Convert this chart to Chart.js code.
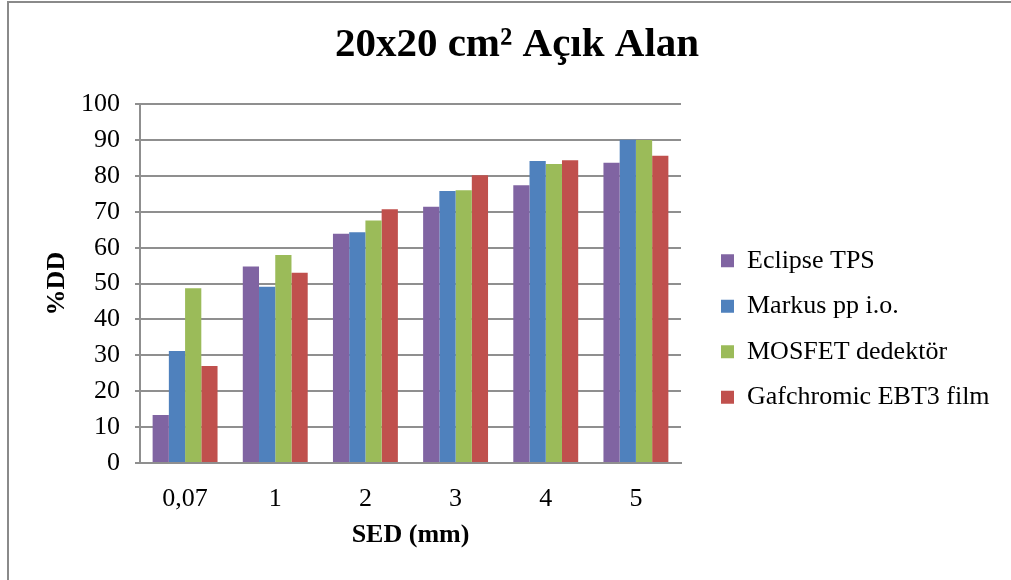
<!DOCTYPE html>
<html>
<head>
<meta charset="utf-8">
<script src="https://cdn.jsdelivr.net/npm/chart.js@4.4.1/dist/chart.umd.min.js"></script>
<style>
  html, body { margin: 0; padding: 0; background: #ffffff; overflow: hidden; }
  #wrap { position: relative; width: 1011px; height: 580px; overflow: hidden; }
  #frame { position: absolute; left: 7px; top: 1px; width: 1100px; height: 700px;
           border-left: 2px solid #8a8a8a; border-top: 2px solid #8a8a8a; box-sizing: border-box; }
  #chart { position: absolute; left: 0; top: 0; }
</style>
</head>
<body>
<div id="wrap">
  <div id="frame"></div>
  <canvas id="chart" width="1011" height="580"></canvas>
</div>
<script>
// Surface dose at the tested depths (SED, mm), 20x20 cm² open field
const categories = ['0,07', '1', '2', '3', '4', '5'];
const seriesNames = ['Eclipse TPS', 'Markus pp i.o.', 'MOSFET dedektör', 'Gafchromic EBT3 film'];
const eclipseTPS = [13.4, 54.8, 63.9, 71.4, 77.4, 83.7];
const markusPP = [31.2, 49.1, 64.3, 75.8, 84.2, 90.1];
const mosfet = [48.7, 58.0, 67.6, 76.0, 83.3, 90.0];
const gafchromic = [27.0, 53.0, 70.7, 80.2, 84.4, 85.6];
const yTicks = [0, 10, 20, 30, 40, 50, 60, 70, 80, 90, 100];

const colors = ['#8064A2', '#4F81BD', '#9BBB59', '#C0504D'];
const values = [eclipseTPS, markusPP, mosfet, gafchromic];

const serif = "'Liberation Serif', 'Times New Roman', serif";
const gridGrey = '#8f8f8f';

// Shifts (and optionally widens) the title and legend blocks after layout
const blockNudge = {
  id: 'blockNudge',
  afterLayout(chart, args, opts) {
    const move = (box, d) => {
      if (!box || !d) return;
      const dx = d.dx || 0, dy = d.dy || 0, grow = d.grow || 0;
      box.left += dx; box.right += dx + grow; box.width += grow;
      box.top += dy; box.bottom += dy;
    };
    move(chart.legend, opts.legend);
    move(chart.titleBlock, opts.title);
  }
};

new Chart(document.getElementById('chart'), {
  type: 'bar',
  data: {
    labels: categories,
    datasets: seriesNames.map((name, i) => ({
      label: name,
      data: values[i],
      backgroundColor: colors[i],
      borderWidth: 0,
      categoryPercentage: 0.72,
      barPercentage: 1.0
    }))
  },
  plugins: [blockNudge],
  options: {
    responsive: false,
    animation: false,
    layout: { padding: { left: 0, right: 103, top: 0, bottom: 0 } },
    plugins: {
      title: {
        display: true,
        text: '20x20 cm² Açık Alan',
        color: '#000000',
        font: { family: serif, size: 41, weight: 'bold', lineHeight: 1.2 },
        padding: { top: 21, bottom: 34 }
      },
      legend: {
        position: 'right',
        labels: {
          color: '#000000',
          font: { family: serif, size: 26 },
          boxWidth: 13,
          boxHeight: 13,
          padding: 19.5
        }
      },
      blockNudge: { legend: { dx: 20.5, dy: 39, grow: 80 }, title: { dx: 63 } },
      tooltip: { enabled: false }
    },
    scales: {
      x: {
        afterFit(scale) { scale.height = 117; },
        grid: { display: false },
        border: { display: true, color: gridGrey, width: 2 },
        ticks: {
          color: '#000000',
          font: { family: serif, size: 26 },
          padding: 13,
          maxRotation: 0
        },
        title: {
          display: true,
          text: 'SED (mm)',
          color: '#000000',
          font: { family: serif, size: 26, weight: 'bold' },
          padding: { top: 0, bottom: 29 }
        }
      },
      y: {
        min: 0,
        max: 100,
        afterFit(scale) { scale.width = 140; },
        afterBuildTicks(scale) { scale.ticks = yTicks.map(v => ({ value: v })); },
        grid: { color: gridGrey, lineWidth: 2, drawTicks: true, tickLength: 5 },
        border: { display: true, color: gridGrey, width: 2 },
        ticks: {
          color: '#000000',
          font: { family: serif, size: 26 },
          padding: 15
        },
        title: {
          display: true,
          text: '%DD',
          color: '#000000',
          font: { family: serif, size: 26, weight: 'bold' },
          padding: { top: 42, bottom: 0 }
        }
      }
    }
  }
});
</script>
</body>
</html>
